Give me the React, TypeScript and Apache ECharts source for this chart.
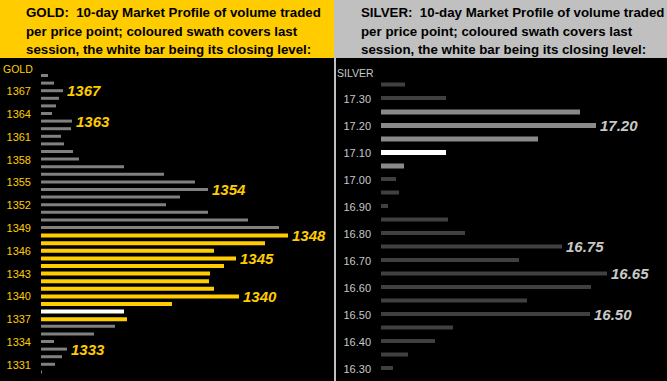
import { useEffect, useRef } from "react";
import * as echarts from "echarts";

// ---------- GOLD data ----------
const goldPrices = [
  "1369", "1368", "1367", "1366", "1365", "1364", "1363", "1362", "1361", "1360",
  "1359", "1358", "1357", "1356", "1355", "1354", "1353", "1352", "1351", "1350",
  "1349", "1348", "1347", "1346", "1345", "1344", "1343", "1342", "1341", "1340",
  "1339", "1338", "1337", "1336", "1335", "1334", "1333", "1332", "1331", "1330",
];
const goldVolumes = [
  7, 13, 22, 18, 15, 11, 31, 30, 20, 23,
  32, 38, 83, 123, 154, 167, 139, 125, 167, 207,
  238, 247, 224, 173, 195, 183, 169, 168, 173, 198,
  131, 83, 86, 74, 53, 13, 26, 21, 14, 1,
];
const goldSession = ["1348", "1347", "1346", "1345", "1344", "1343", "1342", "1341", "1340", "1339", "1338", "1337"];
const goldClose = "1338";
const goldCallouts = ["1367", "1363", "1354", "1348", "1345", "1340", "1333"];
const goldTicks = ["1367", "1364", "1361", "1358", "1355", "1352", "1349", "1346", "1343", "1340", "1337", "1334", "1331"];

// ---------- SILVER data ----------
const silverPrices = [
  "17.35", "17.30", "17.25", "17.20", "17.15", "17.10", "17.05", "17.00", "16.95", "16.90", "16.85",
  "16.80", "16.75", "16.70", "16.65", "16.60", "16.55", "16.50", "16.45", "16.40", "16.35", "16.30",
];
const silverVolumes = [
  24, 65, 199, 215, 157, 65, 23, 15, 18, 7, 67,
  84, 181, 138, 226, 210, 146, 209, 72, 54, 27, 12,
];
const silverSession = ["17.25", "17.20", "17.15", "17.10", "17.05"];
const silverClose = "17.10";
const silverCallouts = ["17.20", "16.75", "16.65", "16.50"];
const silverTicks = ["17.30", "17.20", "17.10", "17.00", "16.90", "16.80", "16.70", "16.60", "16.50", "16.40", "16.30"];

const FONT = "'Liberation Sans', Arial, sans-serif";
const GOLD = "#ffcc00";
const SILVER_TXT = "#c8c8c8";

function calloutLabel(color: string) {
  return {
    show: true,
    position: "right",
    distance: 4,
    color,
    fontFamily: FONT,
    fontWeight: "bold",
    fontStyle: "italic",
    fontSize: 15,
    formatter: (p: any) => p.name,
  };
}

function buildData(
  prices: string[],
  volumes: number[],
  inSession: boolean,
  session: string[],
  close: string,
  callouts: string[],
  baseColor: string,
  sessionColor: string,
  labelColor: string
) {
  return prices.map((p, i) => {
    const isSess = session.includes(p);
    if (isSess !== inSession) return "-";
    const item: any = {
      value: volumes[i],
      itemStyle: { color: p === close ? "#ffffff" : inSession ? sessionColor : baseColor },
    };
    if (callouts.includes(p)) item.label = calloutLabel(labelColor);
    return item;
  });
}

export default function App() {
  const ref = useRef<HTMLDivElement>(null);
  useEffect(() => {
    document.body.style.margin = "0";
    const chart = echarts.init(ref.current!, null, { renderer: "svg" });
    const headerLines = [
      "10-day Market Profile of volume traded",
      "per price point; coloured swath covers last",
      "session, the white bar being its closing level:",
    ];
    const headerY = [12, 31, 49.5];
    const headerText = (x: number, prefix: string) =>
      headerY.map((y, i) => ({
        type: "text",
        x,
        y,
        style: {
          text: i === 0 ? prefix + ":\u00a0 " + headerLines[0] : headerLines[i],
          fill: "#000",
          font: `bold 13.3px ${FONT}`,
          verticalAlign: "middle",
        },
      }));

    chart.setOption({
      animation: false,
      backgroundColor: "#000",
      graphic: [
        { type: "rect", shape: { x: 0, y: 0, width: 334, height: 58 }, style: { fill: GOLD } },
        { type: "rect", shape: { x: 334, y: 0, width: 333, height: 58 }, style: { fill: "#c0c0c0" } },
        { type: "rect", shape: { x: 334, y: 58, width: 2, height: 323 }, style: { fill: "#c0c0c0" } },
        ...headerText(26, "GOLD"),
        ...headerText(361, "SILVER"),
        {
          type: "text",
          x: 3,
          y: 68.5,
          style: { text: "GOLD", fill: GOLD, font: `10.5px ${FONT}`, verticalAlign: "middle" },
        },
        {
          type: "text",
          x: 337,
          y: 72.5,
          style: { text: "SILVER", fill: SILVER_TXT, font: `10.5px ${FONT}`, verticalAlign: "middle" },
        },
      ],
      grid: [
        { left: 41, top: 72.2, width: 293, height: 304 },
        { left: 381, top: 78.25, width: 284, height: 297 },
      ],
      xAxis: [
        { type: "value", gridIndex: 0, min: 0, max: 293, show: false },
        { type: "value", gridIndex: 1, min: 0, max: 284, show: false },
      ],
      yAxis: [
        {
          type: "category",
          gridIndex: 0,
          inverse: true,
          data: goldPrices,
          axisLine: { show: false },
          axisTick: { show: false },
          splitLine: { show: false },
          axisLabel: {
            interval: (_i: number, v: string) => goldTicks.includes(v),
            color: GOLD,
            fontFamily: FONT,
            fontSize: 11,
            margin: 10,
          },
        },
        {
          type: "category",
          gridIndex: 1,
          inverse: true,
          data: silverPrices,
          axisLine: { show: false },
          axisTick: { show: false },
          splitLine: { show: false },
          axisLabel: {
            interval: (_i: number, v: string) => silverTicks.includes(v),
            color: SILVER_TXT,
            fontFamily: FONT,
            fontSize: 11,
            margin: 10,
          },
        },
      ],
      series: [
        {
          type: "bar",
          xAxisIndex: 0,
          yAxisIndex: 0,
          barWidth: 3,
          barGap: "-100%",
          data: buildData(goldPrices, goldVolumes, false, goldSession, goldClose, goldCallouts, "#808080", GOLD, GOLD),
        },
        {
          type: "bar",
          xAxisIndex: 0,
          yAxisIndex: 0,
          barWidth: 4,
          barGap: "-100%",
          data: buildData(goldPrices, goldVolumes, true, goldSession, goldClose, goldCallouts, "#808080", GOLD, GOLD),
        },
        {
          type: "bar",
          xAxisIndex: 1,
          yAxisIndex: 1,
          barWidth: 4,
          barGap: "-100%",
          data: buildData(silverPrices, silverVolumes, false, silverSession, silverClose, silverCallouts, "#404040", "#8a8a8a", SILVER_TXT),
        },
        {
          type: "bar",
          xAxisIndex: 1,
          yAxisIndex: 1,
          barWidth: 5,
          barGap: "-100%",
          data: buildData(silverPrices, silverVolumes, true, silverSession, silverClose, silverCallouts, "#404040", "#8a8a8a", SILVER_TXT),
        },
      ],
    });
    return () => chart.dispose();
  }, []);
  return <div ref={ref} style={{ position: "fixed", left: 0, top: 0, width: 667, height: 381 }} />;
}
